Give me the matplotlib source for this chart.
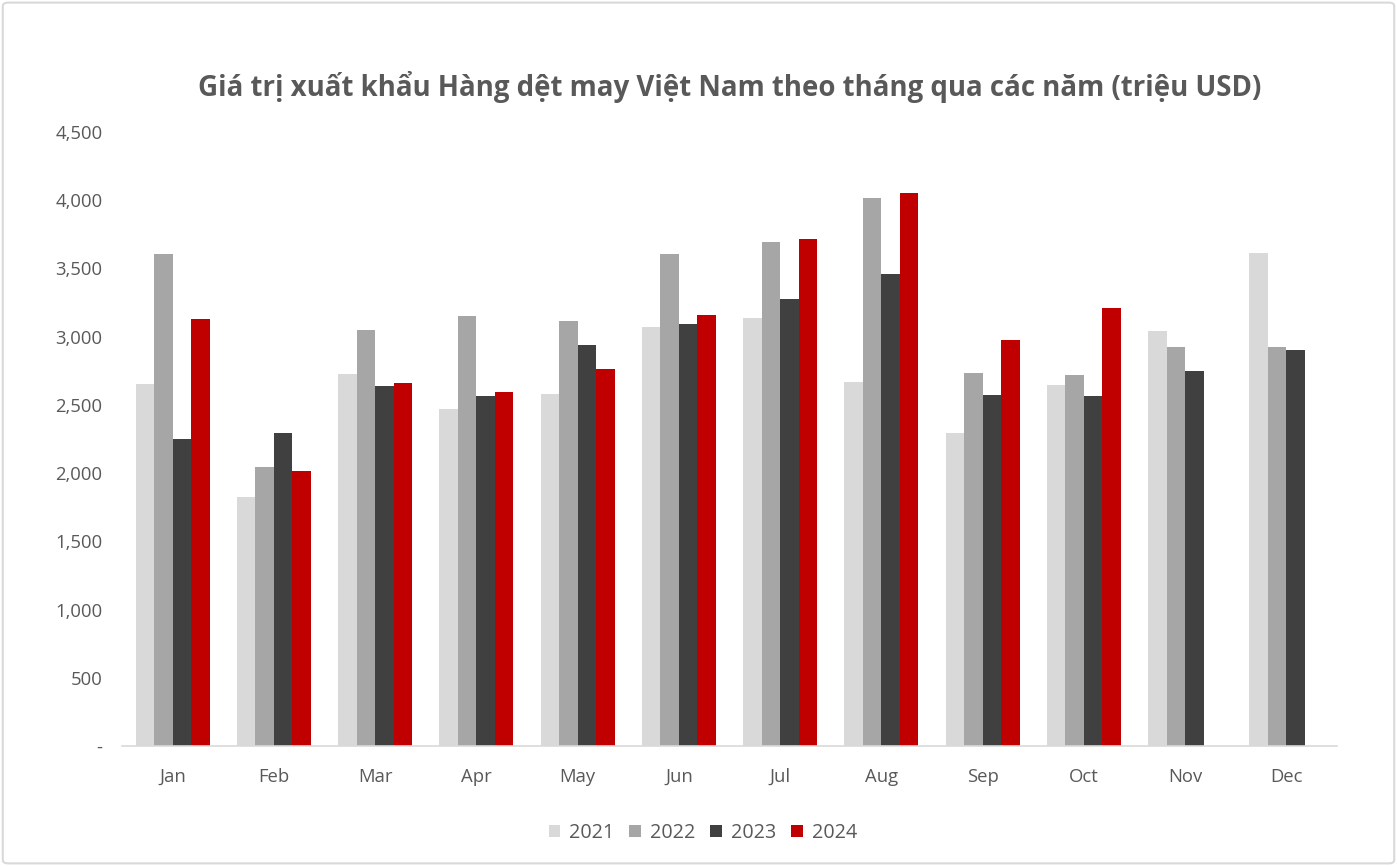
import matplotlib.pyplot as plt
import numpy as np
from matplotlib.patches import FancyBboxPatch

# Monthly textile & garment export values (million USD)
months = ["Jan", "Feb", "Mar", "Apr", "May", "Jun", "Jul", "Aug", "Sep", "Oct", "Nov", "Dec"]
v2021 = [2653, 1825, 2726, 2470, 2580, 3071, 3137, 2668, 2294, 2646, 3042, 3613]
v2022 = [3606, 2045, 3049, 3151, 3115, 3606, 3694, 4016, 2734, 2719, 2924, 2924]
v2023 = [2250, 2294, 2638, 2565, 2939, 3093, 3276, 3459, 2572, 2565, 2748, 2902]
v2024 = [3129, 2015, 2660, 2594, 2763, 3159, 3716, 4053, 2976, 3210, np.nan, np.nan]

series = [("2021", v2021, "#d9d9d9"),
          ("2022", v2022, "#a6a6a6"),
          ("2023", v2023, "#404040"),
          ("2024", v2024, "#c00000")]

text_color = "#595959"
plt.rcParams["font.family"] = ["Open Sans", "DejaVu Sans"]

fig = plt.figure(figsize=(13.97, 8.66), dpi=100)
# light rounded frame around the chart area
fig.patches.append(FancyBboxPatch((0.002, 0.003), 0.996, 0.994, boxstyle="round,pad=0,rounding_size=0.004",
                                  transform=fig.transFigure, fill=False, edgecolor="#d9d9d9", linewidth=1.5))

ax = fig.add_axes([122 / 1397, 120 / 866, (1337 - 122) / 1397, (746 - 132) / 866])

x = np.arange(len(months))
bw = 0.183
for i, (name, vals, col) in enumerate(series):
    ax.bar(x + (i - 1.5) * bw, vals, width=bw, color=col, label=name, linewidth=0)

ax.set_xlim(-0.5, len(months) - 0.5)
ax.set_ylim(0, 4500)
ax.set_yticks(np.arange(0, 4501, 500))
ax.set_yticklabels(["-"] + [f"{v:,}" for v in range(500, 4501, 500)])
ax.set_xticks(x)
ax.set_xticklabels(months)
ax.tick_params(axis="both", length=0, labelsize=13.3, colors=text_color)
ax.tick_params(axis="y", pad=14)
ax.tick_params(axis="x", pad=16)

for s in ["top", "right", "left"]:
    ax.spines[s].set_visible(False)
ax.spines["bottom"].set_color("#d9d9d9")
ax.spines["bottom"].set_linewidth(1.2)

fig.text(0.522, 0.899, "Giá trị xuất khẩu Hàng dệt may Việt Nam theo tháng qua các năm (triệu USD)",
         ha="center", va="center", fontsize=19.9, fontweight="bold", color=text_color)

leg = fig.legend(loc="center", bbox_to_anchor=(0.503, 0.038), ncol=4, frameon=False,
                 fontsize=14.2, handlelength=0.6, handleheight=0.6, handletextpad=0.45, columnspacing=0.75)
for t in leg.get_texts():
    t.set_color(text_color)

fig.savefig("out.png", dpi=100)
